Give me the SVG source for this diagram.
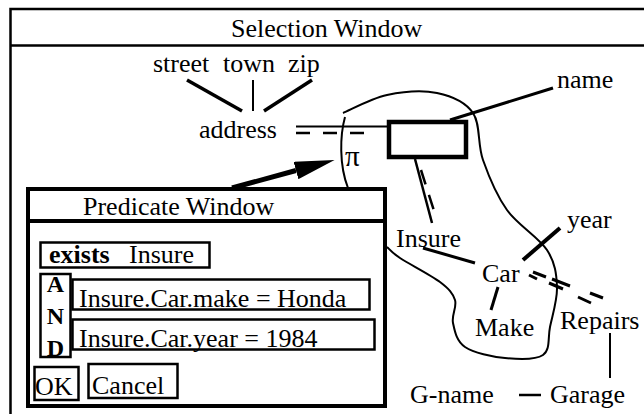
<svg xmlns="http://www.w3.org/2000/svg" width="644" height="414" viewBox="0 0 644 414" font-family="Liberation Serif, DejaVu Serif, serif">
<defs>
<style>
text{font-family:'Liberation Serif','DejaVu Serif',serif;font-size:26px;fill:#000}
.b{font-weight:bold}
.ln{stroke:#000;fill:none;stroke-linecap:butt}
.box{fill:#fff;stroke:#000;stroke-width:2.5}
</style>
<marker id="ah" viewBox="0 0 40 18" refX="0" refY="9" markerWidth="40" markerHeight="18" markerUnits="userSpaceOnUse" orient="auto">
<path d="M0,0 L40,9 L0,18 Z" fill="#000"/>
</marker>
</defs>
<rect width="644" height="414" fill="#fff"/>

<g id="selection-window">
<rect x="10.5" y="9" width="700" height="500" fill="none" stroke="#000" stroke-width="2.5"/>
<line class="ln" x1="10" y1="45.5" x2="644" y2="45.5" stroke-width="2.5"/>
<text x="231" y="37">Selection Window</text>
</g>

<g id="connectors">
<line class="ln" x1="187" y1="80" x2="242" y2="111" stroke-width="3.5"/>
<line class="ln" x1="253" y1="80" x2="253" y2="111" stroke-width="2"/>
<line class="ln" x1="264" y1="111" x2="312" y2="80" stroke-width="3.5"/>
<line class="ln" x1="296" y1="126.5" x2="388" y2="126.5" stroke-width="2"/>
<line class="ln" x1="296" y1="133" x2="370" y2="133" stroke-width="2.5" stroke-dasharray="14 13"/>
<line class="ln" x1="450" y1="120" x2="553" y2="88" stroke-width="3"/>
<line class="ln" x1="415" y1="159" x2="432" y2="223" stroke-width="2.5"/>
<line class="ln" x1="421" y1="170" x2="436" y2="217" stroke-width="2.5" stroke-dasharray="15 11"/>
<line class="ln" x1="423" y1="248" x2="475" y2="263" stroke-width="3"/>
<line class="ln" x1="523" y1="260" x2="560" y2="228" stroke-width="4"/>
<line class="ln" x1="498" y1="287" x2="491" y2="310" stroke-width="3"/>
<path class="ln" stroke-width="3" d="M533,272 L546,277 M552,279 L570,286 M590,293 L603,298"/>
<path class="ln" stroke-width="3" d="M529,275 L537,279 M549,283 L563,289 M578,297 L591,303"/>
<line class="ln" x1="610" y1="333" x2="610" y2="378" stroke-width="2"/>
<line class="ln" x1="519" y1="395" x2="541" y2="395" stroke-width="2.5"/>
<path class="ln" stroke-width="2" d="M343,113 C350.3,110 371.3,98.3 387,95 C402.7,91.7 422.7,90 437,93 C451.3,96 465.3,101.8 473,113 C480.7,124.2 477.3,143.8 483,160 C488.7,176.2 496.3,195 507,210 C517.7,225 538.7,237.2 547,250 C555.3,262.8 556.5,274.2 557,287 C557.5,299.8 552.3,315.7 550,327 C547.7,338.3 550.5,349.8 543,355 C535.5,360.2 518,359.3 505,358 C492,356.7 473.7,352.8 465,347 C456.3,341.2 454.7,330.8 453,323 C451.3,315.2 457.2,306.8 455,300 C452.8,293.2 449.2,289 440,282 C430.8,275 408.8,263.8 400,258 C391.2,252.2 389.2,248.8 387,247"/>
<path class="ln" stroke-width="2" d="M345,117 C340,135 339,165 348,188"/>
<line class="ln" x1="232" y1="188" x2="296" y2="170.5" stroke-width="5" marker-end="url(#ah)"/>
</g>

<g id="node-street"><text x="153" y="72">street</text></g>
<g id="node-town"><text x="223" y="72">town</text></g>
<g id="node-zip"><text x="288" y="72">zip</text></g>
<g id="node-address"><text x="199" y="138">address</text></g>
<g id="node-selected"><rect x="389" y="122" width="77" height="35" fill="#fff" stroke="#000" stroke-width="4.5"/></g>
<g id="node-name"><text x="557" y="88">name</text></g>
<g id="node-pi"><text x="345" y="166" style="font-size:29px">π</text></g>
<g id="node-insure"><text x="396" y="247">Insure</text></g>
<g id="node-year"><text x="567" y="228">year</text></g>
<g id="node-car"><text x="482" y="282">Car</text></g>
<g id="node-make"><text x="475" y="336">Make</text></g>
<g id="node-repairs"><text x="560" y="329">Repairs</text></g>
<g id="node-gname"><text x="410" y="403">G-name</text></g>
<g id="node-garage"><text x="550" y="403">Garage</text></g>

<g id="predicate-window">
<rect x="28" y="189" width="357" height="217" fill="#fff" stroke="#000" stroke-width="4"/>
<line class="ln" x1="28" y1="221" x2="385" y2="221" stroke-width="4"/>
<text x="83" y="215">Predicate Window</text>
<g id="exists-box">
<rect class="box" x="40.5" y="242.5" width="169" height="25"/>
<text class="b" x="49" y="263">exists</text>
<text x="129" y="263">Insure</text>
</g>
<g id="and-box">
<rect class="box" x="40.5" y="274" width="30" height="83"/>
<text class="b" x="55.5" y="292" text-anchor="middle" style="font-size:24px">A</text>
<text class="b" x="55.5" y="324" text-anchor="middle" style="font-size:24px">N</text>
<text class="b" x="55.5" y="356" text-anchor="middle" style="font-size:24px">D</text>
</g>
<g id="make-box">
<rect class="box" x="72.5" y="279.5" width="297" height="30"/>
<text x="79" y="307">Insure.Car.make = Honda</text>
</g>
<g id="year-box">
<rect class="box" x="72.5" y="319.5" width="302" height="30"/>
<text x="79" y="347">Insure.Car.year = 1984</text>
</g>
<g id="ok-button">
<rect class="box" x="34.5" y="367" width="44" height="33"/>
<text x="35" y="395">OK</text>
</g>
<g id="cancel-button">
<rect class="box" x="88.5" y="364" width="89" height="34"/>
<text x="92" y="394">Cancel</text>
</g>
</g>
</svg>
